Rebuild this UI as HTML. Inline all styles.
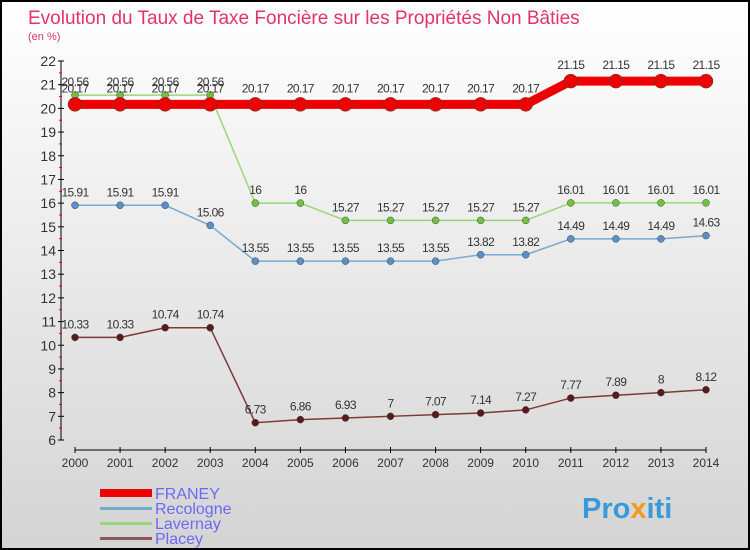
<!DOCTYPE html>
<html><head><meta charset="utf-8"><style>
body{margin:0}
#c{width:750px;height:550px;position:relative;overflow:hidden}
text{font-family:"Liberation Sans",sans-serif}
</style></head><body>
<div id="c">
<svg id="s" width="750" height="550" xmlns="http://www.w3.org/2000/svg">
<defs><linearGradient id="bg" x1="0" y1="0" x2="0" y2="1"><stop offset="0" stop-color="#ffffff"/><stop offset="1" stop-color="#d4d4d4"/></linearGradient></defs>
<rect x="1" y="1" width="748" height="548" fill="url(#bg)" stroke="#000" stroke-width="2"/>
<text x="28" y="24" font-size="19" fill="#e2336b">Evolution du Taux de Taxe Foncière sur les Propriétés Non Bâties</text>
<text x="28" y="40" font-size="11" fill="#e2336b">(en %)</text>
<g id="axes"></g><g id="series"></g>
<g>
<rect x="100" y="489" width="52" height="8" fill="#e00"/>
<text x="155" y="499" font-size="16" fill="#6a6af5">FRANEY</text>
<rect x="100" y="507" width="52" height="3" fill="#7aaad0"/>
<text x="155" y="514" font-size="16" fill="#6a6af5">Recologne</text>
<rect x="100" y="522" width="52" height="3" fill="#99d67a"/>
<text x="155" y="529" font-size="16" fill="#6a6af5">Lavernay</text>
<rect x="100" y="537" width="52" height="3" fill="#8a5a5a"/>
<text x="155" y="544" font-size="16" fill="#6a6af5">Placey</text>
</g>
<text x="582" y="518" font-size="29" font-weight="bold" fill="#3a9ad9">Pro<tspan fill="#f29a1e">x</tspan>iti</text>
</svg></div>
<script>
const years=[2000,2001,2002,2003,2004,2005,2006,2007,2008,2009,2010,2011,2012,2013,2014];
const yTicks=[6,7,8,9,10,11,12,13,14,15,16,17,18,19,20,21,22];
const franey=[20.17,20.17,20.17,20.17,20.17,20.17,20.17,20.17,20.17,20.17,20.17,21.15,21.15,21.15,21.15];
const recologne=[15.91,15.91,15.91,15.06,13.55,13.55,13.55,13.55,13.55,13.82,13.82,14.49,14.49,14.49,14.63];
const lavernay=[20.56,20.56,20.56,20.56,16,16,15.27,15.27,15.27,15.27,15.27,16.01,16.01,16.01,16.01];
const placey=[10.33,10.33,10.74,10.74,6.73,6.86,6.93,7,7.07,7.14,7.27,7.77,7.89,8,8.12];
const NS="http://www.w3.org/2000/svg";
const X=i=>75+i*(706-75)/(years.length-1);
const Y=v=>440-(v-6)*(440-61)/16;
function el(t,a,p){const e=document.createElementNS(NS,t);for(const k in a)e.setAttribute(k,a[k]);p.appendChild(e);return e;}
const ax=document.getElementById('axes');
const ya=el('line',{x1:61,y1:61,x2:61,y2:440,stroke:'#000'},ax);


yTicks.forEach(v=>{
 el('line',{x1:58,y1:Y(v),x2:64,y2:Y(v),stroke:'#000'},ax);
 if(v<22){el('line',{x1:59,y1:Y(v+0.5),x2:62,y2:Y(v+0.5),stroke:'#e00'},ax);}
 const t=el('text',{x:56,y:Y(v)+5,'font-size':14,fill:'#333','text-anchor':'end'},ax);t.textContent=v;
 
 
});
const xa=el('line',{x1:75,y1:450,x2:706,y2:450,stroke:'#000'},ax);


years.forEach((y,i)=>{
 el('line',{x1:X(i),y1:447,x2:X(i),y2:453,stroke:'#000'},ax);
 const t=el('text',{x:X(i),y:467,'font-size':12,fill:'#333','text-anchor':'middle'},ax);t.textContent=y;
 
 
});
const sg=document.getElementById('series');
function draw(name,data,color,w,r,dot){
 const g=el('g',{},sg);
 
 
 const p=el('polyline',{points:data.map((v,i)=>X(i)+','+Y(v)).join(' '),fill:'none',stroke:color,'stroke-width':w},g);
 
 
 data.forEach((v,i)=>{
  const c=el('circle',{cx:X(i),cy:Y(v),r:r,fill:dot,stroke:'#444','stroke-width':0.5},g);
  
  
  const t=el('text',{x:X(i),y:Y(v)-9-(name==='franey'?3:0),'font-size':12,fill:'#333','text-anchor':'middle','letter-spacing':'-0.6'},g);
  t.textContent=v;
  
  
 });
}
draw('recologne',recologne,'#7aaad0',1.5,3.5,'#5b8fc7');
draw('lavernay',lavernay,'#99d67a',1.5,3.5,'#6fc33b');
draw('placey',placey,'#7a3a3a',1.5,3.5,'#5a1a1a');
draw('franey',franey,'#ee0000',9,7,'#e00');
</script>
</body></html>
